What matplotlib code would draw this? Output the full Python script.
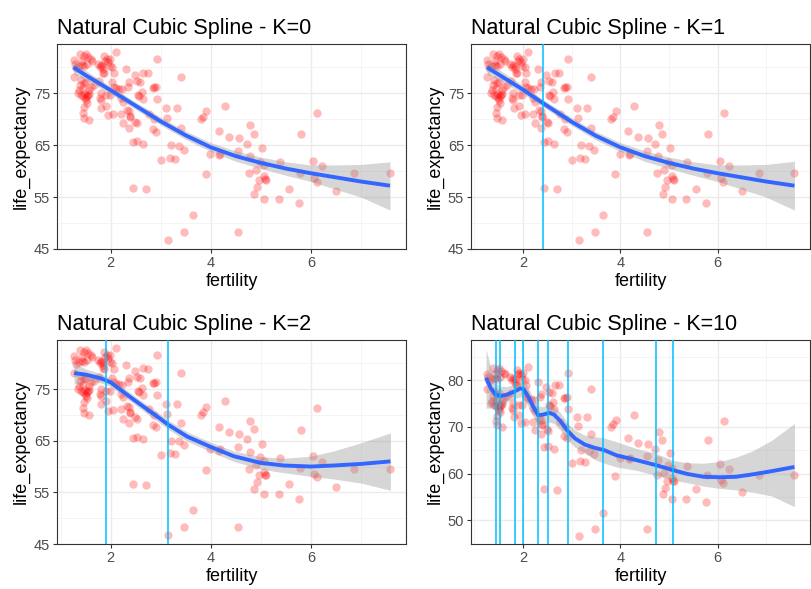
import matplotlib
matplotlib.use("Agg")
import matplotlib.pyplot as plt
import numpy as np

plt.rcParams['font.family'] = ['Liberation Sans', 'DejaVu Sans']

fertility = [1.26, 1.28, 1.38, 1.46, 1.51, 1.43, 1.36, 1.47, 1.52, 1.60, 1.63, 1.26, 1.41, 1.38,
             1.37, 1.35, 1.40, 1.44, 1.48, 1.51, 1.52, 1.55, 1.46, 1.44, 1.46, 1.57, 1.47, 1.50,
             1.60, 1.56, 1.57, 1.74, 1.78, 1.80, 1.83, 1.85, 1.87, 1.89, 1.92, 1.95, 1.99, 2.03,
             2.07, 2.11, 1.87, 1.76, 1.80, 1.78, 1.80, 1.81, 1.91, 1.95, 1.91, 1.98, 2.03, 2.07,
             2.10, 2.17, 2.21, 2.24, 2.23, 2.31, 2.37, 2.35, 2.33, 2.36, 2.39, 2.37, 2.39, 2.48,
             2.53, 2.49, 2.52, 2.56, 2.54, 2.59, 2.62, 2.64, 2.65, 2.74, 2.76, 2.84, 2.87, 2.90,
             2.92, 2.93, 2.86, 2.85, 2.90, 2.44, 2.52, 2.64, 2.44, 2.70, 3.01, 3.10, 3.12, 3.20,
             3.18, 3.28, 3.32, 3.36, 3.40, 3.40, 3.46, 3.64, 3.81, 3.85, 3.91, 3.90, 3.99, 4.16,
             4.17, 4.19, 4.29, 4.36, 4.55, 4.56, 4.54, 4.72, 4.76, 4.78, 4.79, 4.86, 4.87, 4.90,
             4.92, 4.96, 4.99, 5.03, 5.06, 5.06, 5.09, 5.06, 5.11, 5.36, 5.38, 5.56, 5.79, 5.80,
             5.77, 6.04, 6.07, 6.13, 6.12, 6.23, 6.50, 6.86, 7.58, 3.15, 3.47,
             1.30, 1.42, 1.55, 1.45, 1.53, 1.49, 1.67, 1.84, 1.98, 2.25, 2.04, 2.20]
life_expectancy = [81.4, 80.7, 82.6, 82.2, 82.6, 81.3, 80.3, 80.3, 80.7, 81.6, 81.3, 78.2, 77.6, 76.6,
                   75.6, 75.0, 74.7, 74.5, 74.0, 73.7, 74.4, 74.7, 72.4, 71.3, 70.3, 69.9, 76.9, 77.2,
                   76.3, 75.6, 74.9, 80.7, 80.1, 80.5, 80.3, 79.0, 82.1, 81.3, 81.6, 81.0, 81.6, 80.1,
                   78.9, 82.9, 78.9, 77.3, 75.0, 74.0, 73.7, 72.1, 72.6, 70.8, 74.7, 74.7, 77.2, 76.3,
                   76.0, 75.9, 71.1, 69.3, 75.8, 79.6, 77.1, 76.3, 71.8, 71.5, 70.4, 68.4, 70.6, 78.5,
                   77.4, 69.5, 69.2, 74.5, 74.7, 77.2, 75.3, 73.9, 79.0, 78.9, 71.1, 76.1, 76.2, 76.3,
                   81.6, 73.9, 70.0, 68.1, 67.6, 65.6, 65.8, 65.3, 56.7, 56.5, 62.2, 72.1, 70.2, 65.0,
                   62.6, 62.4, 72.1, 64.9, 78.1, 68.4, 64.1, 51.6, 70.0, 70.5, 71.5, 59.4, 63.4, 67.7,
                   63.1, 63.3, 72.6, 66.6, 63.8, 66.3, 48.2, 65.3, 59.6, 62.9, 68.8, 67.2, 55.6, 60.2,
                   57.0, 58.3, 61.8, 64.4, 61.1, 59.0, 58.4, 54.6, 58.3, 54.6, 61.7, 56.6, 59.7, 67.1,
                   53.8, 62.0, 58.6, 71.3, 58.0, 60.9, 56.1, 59.6, 59.6, 46.7, 48.2,
                   79.8, 80.5, 82.0, 76.0, 73.2, 74.9, 76.6, 79.6, 80.3, 73.4, 71.0, 74.0]

titles = ["Natural Cubic Spline - K=0", "Natural Cubic Spline - K=1",
          "Natural Cubic Spline - K=2", "Natural Cubic Spline - K=10"]

knots = [[], [2.41], [1.90, 3.15],
         [1.44, 1.52, 1.83, 2.00, 2.31, 2.52, 2.92, 3.64, 4.73, 5.09]]

# fitted curves and ribbons
fit_x0 = [1.26, 1.5, 2.0, 2.5, 3.0, 3.5, 4.0, 4.5, 5.0, 5.5, 6.0, 6.5, 7.0, 7.58]
fit_y0 = [80.0, 78.5, 75.6, 72.6, 69.6, 66.9, 64.6, 62.9, 61.6, 60.5, 59.6, 58.8, 58.0, 57.2]
fit_lo0 = [78.7, 77.6, 74.9, 71.9, 68.9, 66.1, 63.8, 61.9, 60.5, 59.2, 58.0, 56.5, 55.0, 52.5]
fit_hi0 = [81.3, 79.4, 76.3, 73.3, 70.4, 67.7, 65.5, 63.9, 62.7, 61.8, 61.2, 61.2, 61.3, 61.8]

fit_x1 = [1.26, 1.5, 2.0, 2.41, 3.0, 3.5, 4.0, 4.5, 5.0, 5.5, 6.0, 6.5, 7.0, 7.58]
fit_y1 = [80.0, 78.6, 75.7, 73.1, 69.5, 66.8, 64.6, 62.9, 61.6, 60.5, 59.6, 58.8, 58.0, 57.2]
fit_lo1 = [78.6, 77.6, 74.9, 72.4, 68.8, 66.0, 63.8, 61.9, 60.5, 59.2, 58.0, 56.5, 55.0, 52.5]
fit_hi1 = [81.4, 79.6, 76.5, 73.8, 70.3, 67.6, 65.5, 63.9, 62.7, 61.8, 61.2, 61.2, 61.3, 61.9]

fit_x2 = [1.27, 1.5, 1.8, 2.0, 2.47, 3.0, 3.15, 3.53, 4.0, 4.46, 5.0, 5.46, 6.0, 6.45, 7.0, 7.59]
fit_y2 = [78.1, 77.8, 77.1, 76.3, 72.9, 69.2, 68.1, 65.8, 63.8, 62.0, 60.7, 60.2, 60.0, 60.2, 60.5, 61.0]
fit_lo2 = [76.0, 76.7, 76.2, 75.5, 72.1, 68.3, 67.2, 64.9, 62.9, 61.0, 59.5, 58.8, 58.1, 57.6, 56.8, 55.4]
fit_hi2 = [80.2, 78.9, 78.0, 77.1, 73.7, 70.1, 69.0, 66.7, 64.7, 63.0, 61.9, 61.6, 62.0, 63.0, 64.6, 66.5]

fit_x3 = [1.24, 1.34, 1.44, 1.54, 1.67, 1.81, 1.94, 2.01, 2.11, 2.21, 2.31, 2.41, 2.54, 2.64, 2.77,
          2.92, 3.07, 3.27, 3.47, 3.67, 3.92, 4.32, 4.73, 5.09, 5.38, 5.71, 6.05, 6.38, 6.71, 7.11, 7.58]
fit_y3 = [80.5, 78.2, 76.9, 76.6, 76.9, 77.5, 78.2, 78.1, 76.4, 74.3, 72.5, 72.6, 73.0, 72.6, 71.2,
          69.1, 67.5, 66.2, 65.5, 65.0, 63.9, 62.9, 61.8, 60.7, 59.9, 59.3, 59.2, 59.3, 59.8, 60.5, 61.4]
fit_lo3 = [74.0, 74.0, 73.9, 74.5, 75.4, 76.0, 76.4, 76.1, 74.3, 72.1, 70.6, 70.7, 71.0, 70.7, 69.2,
           67.1, 65.6, 64.4, 63.0, 62.2, 61.4, 60.7, 59.6, 58.6, 58.0, 57.3, 56.8, 56.5, 56.0, 55.2, 52.9]
fit_hi3 = [86.6, 82.5, 79.3, 78.7, 78.6, 79.1, 79.6, 79.8, 78.4, 76.1, 74.5, 74.3, 74.8, 74.3, 73.0,
           70.7, 69.3, 68.2, 67.9, 67.6, 66.8, 65.4, 64.3, 62.8, 62.3, 62.2, 62.6, 63.5, 64.8, 67.1, 70.7]

fits = [(fit_x0, fit_y0, fit_lo0, fit_hi0), (fit_x1, fit_y1, fit_lo1, fit_hi1),
        (fit_x2, fit_y2, fit_lo2, fit_hi2), (fit_x3, fit_y3, fit_lo3, fit_hi3)]

W, H = 811, 589
fig = plt.figure(figsize=(W / 100, H / 100), dpi=100)

boxes = [(57, 406, 44, 249), (471, 810, 44, 249), (57, 406, 340, 544), (471, 810, 340, 544)]
ylims = [(45, 84.5), (45, 84.5), (45, 84.5), (44.9, 88.6)]
ymaj = [[45, 55, 65, 75]] * 3 + [[50, 60, 70, 80]]
ymin = [[50, 60, 70, 80]] * 3 + [[45, 55, 65, 75, 85]]

for i in range(4):
    l, r, t, b = boxes[i]
    ax = fig.add_axes([l / W, 1 - b / H, (r - l) / W, (b - t) / H])
    ax.set_xlim(0.93, 7.9)
    ax.set_ylim(*ylims[i])
    ax.set_xticks([2, 4, 6])
    ax.set_xticks([1, 3, 5, 7], minor=True)
    ax.set_yticks(ymaj[i])
    ax.set_yticks(ymin[i], minor=True)
    ax.grid(True, which='major', color='#EBEBEB', linewidth=1.0)
    ax.grid(True, which='minor', color='#F2F2F2', linewidth=0.6)
    ax.set_axisbelow(True)
    for s in ax.spines.values():
        s.set_color('#333333')
        s.set_linewidth(0.8)
    ax.tick_params(which='major', length=3, width=0.8, color='#333333',
                   labelsize=10.5, labelcolor='#4D4D4D', pad=2)
    ax.tick_params(which='minor', length=0)

    ax.scatter(fertility, life_expectancy, s=36, color='red', alpha=0.27,
               linewidths=0, zorder=2)
    fx, fy, flo, fhi = fits[i]
    ax.fill_between(fx, flo, fhi, color='#999999', alpha=0.4, linewidth=0, zorder=3)
    ax.plot(fx, fy, color='#3366FF', linewidth=2.8, zorder=4, solid_capstyle='butt',
            solid_joinstyle='round')
    for k in knots[i]:
        ax.axvline(k, color='#00BFFF', linewidth=1.1, zorder=5)

    ax.set_xlabel('fertility', fontsize=13, labelpad=2)
    ax.set_ylabel('life_expectancy', fontsize=13, labelpad=3)
    ax.set_title(titles[i], loc='left', fontsize=15.5, pad=7)

fig.savefig('out.png', dpi=100)
